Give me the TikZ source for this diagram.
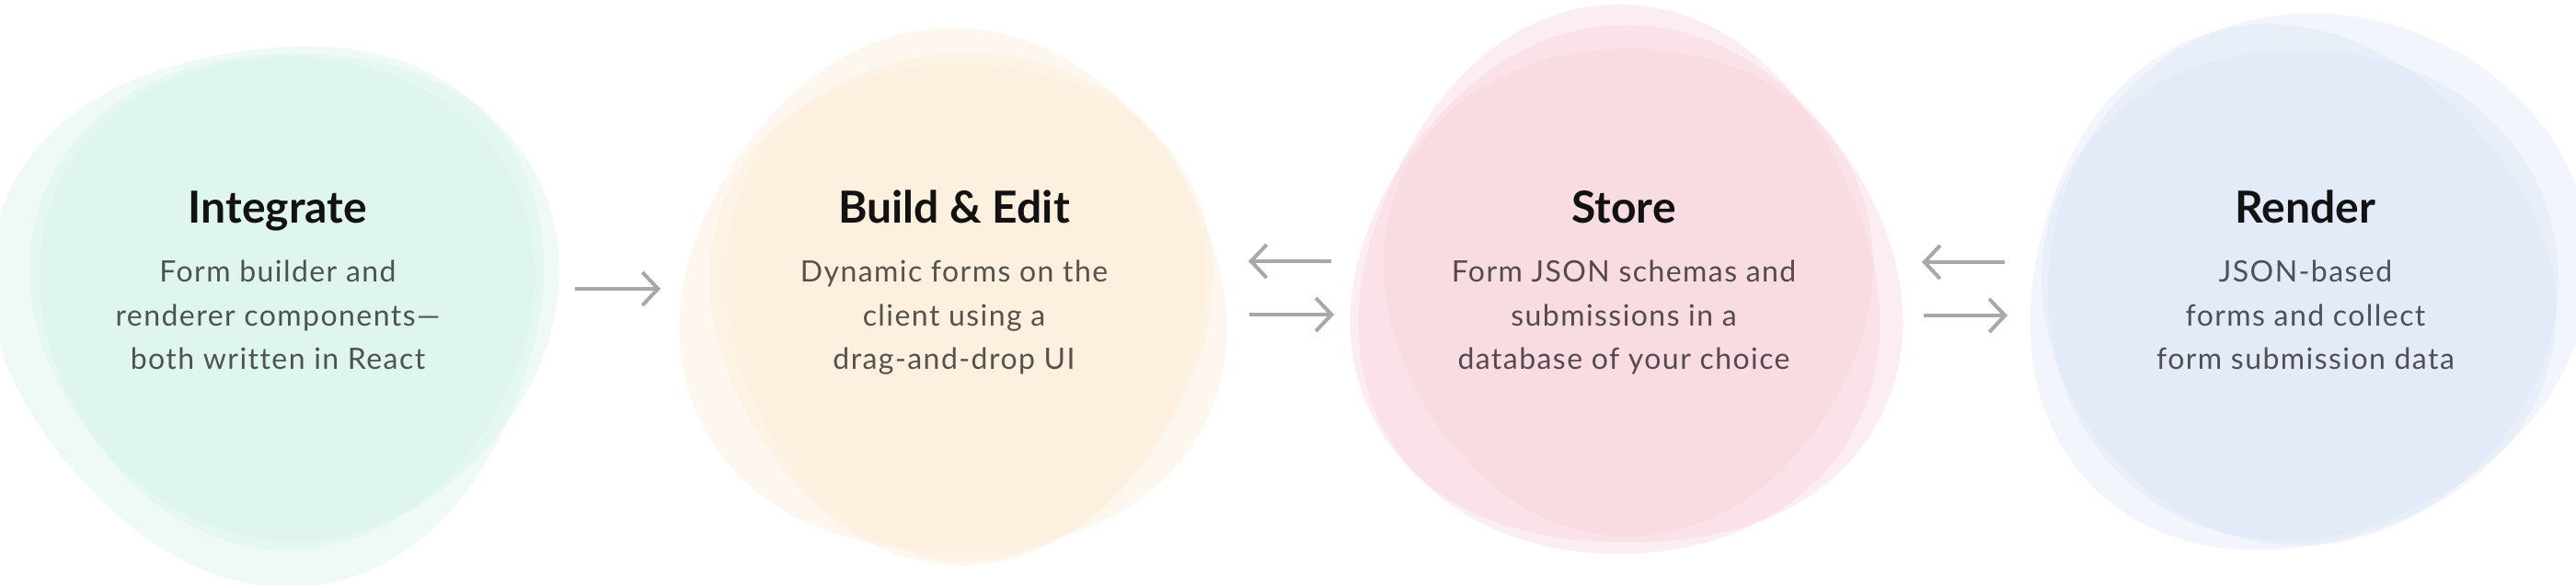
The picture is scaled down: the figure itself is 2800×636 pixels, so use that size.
\documentclass[tikz,border=0pt]{standalone}
\usepackage{fontspec}
\setmainfont{Lato}
\newfontfamily\bodyfont{Lato}[LetterSpace=4.5,Ligatures=NoCommon]
\usetikzlibrary{arrows.meta}
\definecolor{gA}{HTML}{D5F2EA}
\definecolor{oA}{HTML}{FCEBD5}
\definecolor{pA}{HTML}{F7D0D9}
\definecolor{bA}{HTML}{DCE5F6}
\definecolor{arr}{HTML}{A8A8A8}
\tikzset{
  blob/.style={fill=#1, fill opacity=0.38, draw=none},
  ttl/.style={font=\fontsize{48}{58}\selectfont\bfseries, text=black!93, anchor=base, inner sep=0pt},
  txt/.style={font=\bodyfont\fontsize{32}{40}\selectfont, text=black, text opacity=0.66, anchor=base, inner sep=0pt},
  flow/.style={draw=arr, line width=4pt, -{Straight Barb[length=17pt,width=36pt]}},
}
% colour, cx, cy, R, a2, phase2, a3, phase3
\newcommand\myblob[8]{%
  \fill[blob=#1] plot[smooth cycle, domain=0:355, samples=72, variable=\t]
   ({#2+#4*(1+#5*cos(2*(\t-(#6)))+#7*cos(3*(\t-(#8))))*cos(\t)},
    {#3+#4*(1+#5*cos(2*(\t-(#6)))+#7*cos(3*(\t-(#8))))*sin(\t)});}
\begin{document}
\begin{tikzpicture}[x=1pt,y=-1pt]
\useasboundingbox (0,0) rectangle (2800,636);
% ---------- Integrate blob
\myblob{gA}{297}{332}{296}{0.01}{0}{0.05}{200}
\myblob{gA}{320}{315}{276}{0.04}{0}{0.03}{330}
\myblob{gA}{312}{322}{268}{0.0}{0}{0.03}{90}
% ---------- Build blob
\myblob{oA}{1036}{326}{290}{0.02}{0}{0.04}{270}
\myblob{oA}{1045}{332}{272}{0.0}{0}{0.04}{90}
\myblob{oA}{1050}{326}{268}{-0.03}{0}{0.03}{210}
% ---------- Store blob
\myblob{pA}{1760}{315}{290}{-0.03}{0}{0.04}{270}
\myblob{pA}{1768}{320}{290}{0.03}{0}{0.04}{30}
\myblob{pA}{1770}{310}{265}{0.0}{0}{0.03}{90}
% ---------- Render blob
\myblob{bA}{2515}{300}{290}{0.03}{-30}{0.02}{0}
\myblob{bA}{2485}{320}{285}{0.0}{0}{0.04}{135}
\myblob{bA}{2500}{318}{275}{0.02}{0}{0.02}{90}
% ---------- Texts
\node[ttl] (t1) at (302,243) {Integrate};
\node[txt] (t1a) at (302,307) {Form builder and};
\node[txt] (t1b) at (302,354) {renderer components—};
\node[txt] (t1c) at (302,401) {both written in React};
\node[ttl] (t2) at (1037,243) {Build \& Edit};
\node[txt] (t2a) at (1037,307) {Dynamic forms on the};
\node[txt] (t2b) at (1037,354) {client using a};
\node[txt] (t2c) at (1037,401) {drag-and-drop UI};
\node[ttl] (t3) at (1765,243) {Store};
\node[txt] (t3a) at (1765,307) {Form JSON schemas and};
\node[txt] (t3b) at (1765,354) {submissions in a};
\node[txt] (t3c) at (1765,401) {database of your choice};
\node[ttl] (t4) at (2506,243) {Render};
\node[txt] (t4a) at (2506,307) {JSON-based};
\node[txt] (t4b) at (2506,354) {forms and collect};
\node[txt] (t4c) at (2506,401) {form submission data};
% ---------- Arrows
\coordinate (a1s) at (625,314); \coordinate (a1e) at (718,314);
\coordinate (a2s) at (1447,284); \coordinate (a2e) at (1357,284);
\coordinate (a3s) at (1358,342); \coordinate (a3e) at (1450,342);
\coordinate (a4s) at (2179,285); \coordinate (a4e) at (2089,285);
\coordinate (a5s) at (2091,343); \coordinate (a5e) at (2182,343);
\draw[flow] (a1s) -- (a1e);
\draw[flow] (a2s) -- (a2e);
\draw[flow] (a3s) -- (a3e);
\draw[flow] (a4s) -- (a4e);
\draw[flow] (a5s) -- (a5e);
\end{tikzpicture}
\end{document}
